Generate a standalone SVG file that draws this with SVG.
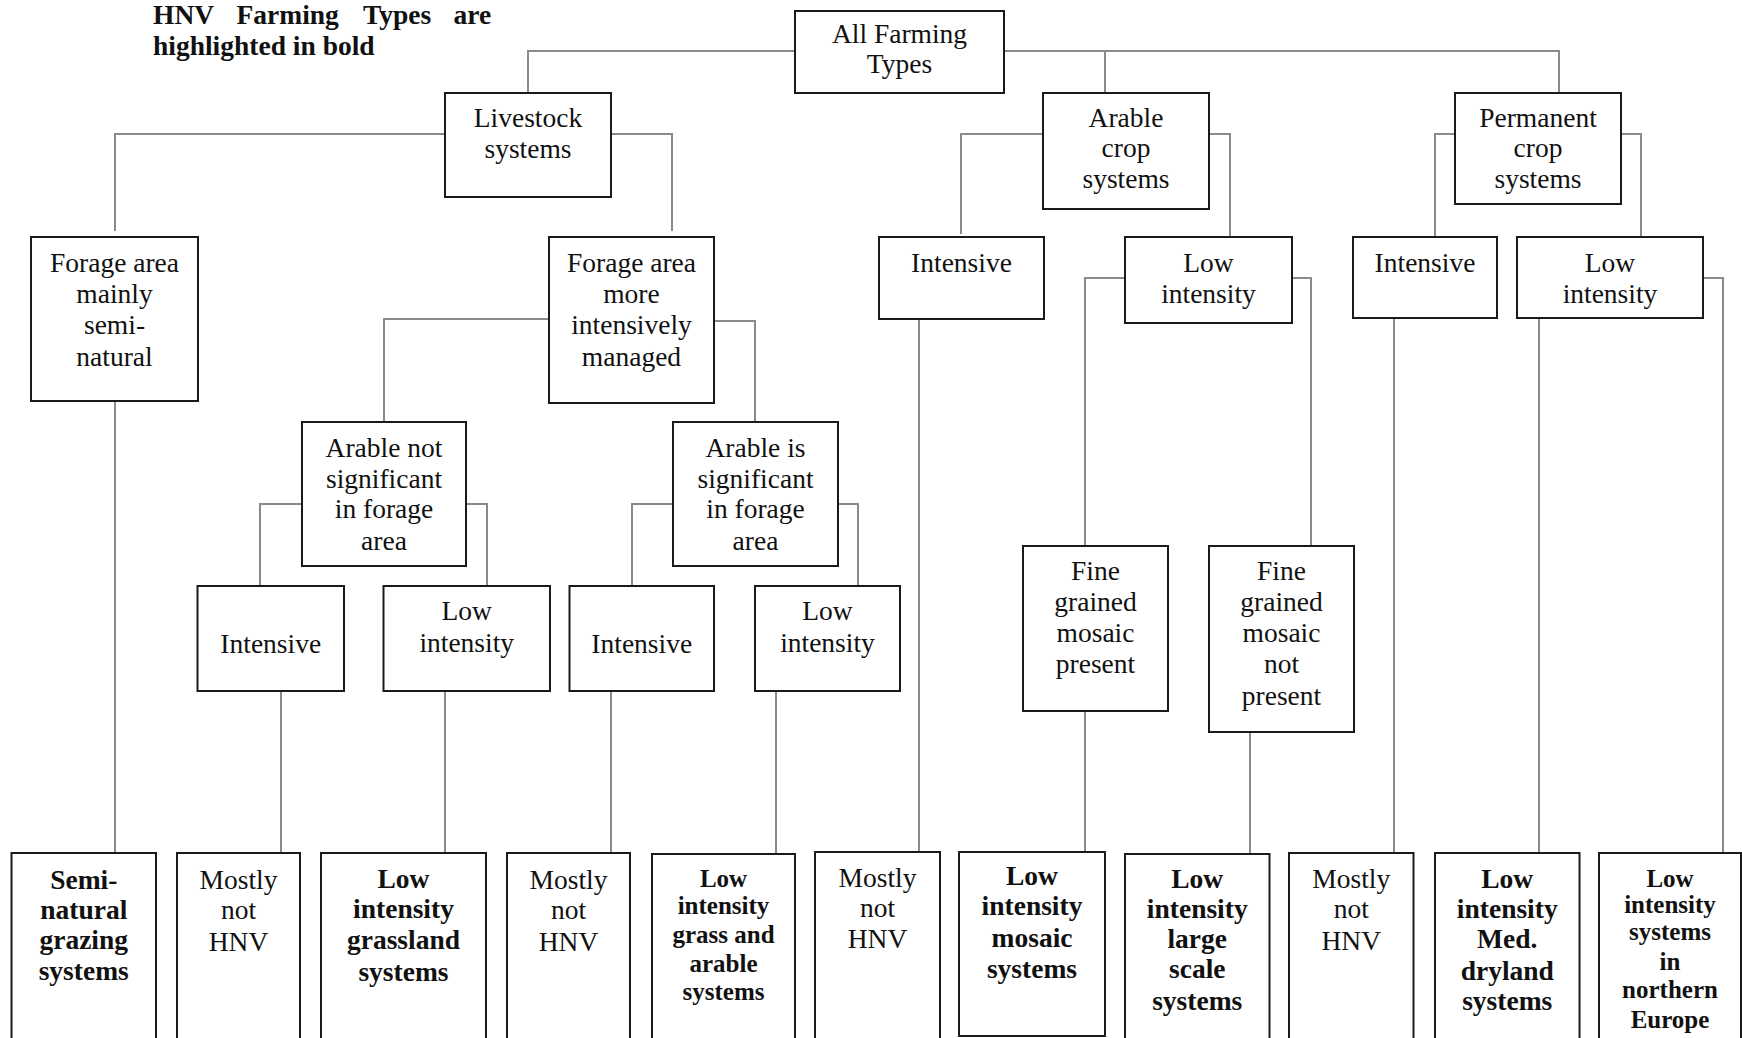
<svg xmlns="http://www.w3.org/2000/svg" width="1742" height="1038" viewBox="0 0 1742 1038">
<style>
  .box { fill: #ffffff; stroke: #1a1a1a; stroke-width: 2; }
  .t { font-family: "Liberation Serif", "Times New Roman", serif; font-size: 27.5px; fill: #111; text-anchor: middle; }
  .b { font-weight: bold; }
  .s { font-size: 25px; }
  .title { font-family: "Liberation Serif", "Times New Roman", serif; font-size: 27.5px; font-weight: bold; fill: #111; }
  .c { fill: none; stroke: #8a8a8a; stroke-width: 2; }
</style>
<rect width="1742" height="1038" fill="#ffffff"/>

<g id="title">
  <text class="title" y="24"><tspan x="153">HNV</tspan><tspan x="236.5">Farming</tspan><tspan x="363">Types</tspan><tspan x="453.5">are</tspan></text>
  <text class="title" x="153" y="55">highlighted in bold</text>
</g>

<g id="connectors">
  <polyline class="c" points="795,51 528,51 528,93"/>
  <polyline class="c" points="1004,51 1559,51 1559,93"/>
  <polyline class="c" points="1105,51 1105,93"/>
  <polyline class="c" points="445,134 115,134 115,231"/>
  <polyline class="c" points="611,134 672,134 672,231"/>
  <polyline class="c" points="115,401 115,853"/>
  <polyline class="c" points="549,319 384,319 384,422"/>
  <polyline class="c" points="714,321 755,321 755,422"/>
  <polyline class="c" points="302,504 260,504 260,586"/>
  <polyline class="c" points="466,504 487,504 487,586"/>
  <polyline class="c" points="673,504 632,504 632,586"/>
  <polyline class="c" points="838,504 858,504 858,586"/>
  <polyline class="c" points="281,691 281,853"/>
  <polyline class="c" points="445,691 445,853"/>
  <polyline class="c" points="611,691 611,853"/>
  <polyline class="c" points="776,691 776,854"/>
  <polyline class="c" points="1043,134 961,134 961,234"/>
  <polyline class="c" points="1209,134 1230,134 1230,237"/>
  <polyline class="c" points="919,319 919,852"/>
  <polyline class="c" points="1125,278 1085,278 1085,546"/>
  <polyline class="c" points="1292,278 1311,278 1311,546"/>
  <polyline class="c" points="1085,711 1085,852"/>
  <polyline class="c" points="1250,732 1250,854"/>
  <polyline class="c" points="1455,134 1435,134 1435,237"/>
  <polyline class="c" points="1621,134 1641,134 1641,237"/>
  <polyline class="c" points="1394,318 1394,853"/>
  <polyline class="c" points="1539,318 1539,853"/>
  <polyline class="c" points="1703,278 1723,278 1723,853"/>
</g>

<g id="all-farming">
  <rect class="box" x="795" y="11" width="209" height="82"/>
  <text class="t" x="899.5" y="43">All Farming</text>
  <text class="t" x="899.5" y="73">Types</text>
</g>

<g id="livestock">
  <rect class="box" x="445" y="93" width="166" height="104"/>
  <text class="t" x="528" y="127">Livestock</text>
  <text class="t" x="528" y="158">systems</text>
</g>

<g id="arable-crop">
  <rect class="box" x="1043" y="93" width="166" height="116"/>
  <text class="t" x="1126" y="127">Arable</text>
  <text class="t" x="1126" y="157">crop</text>
  <text class="t" x="1126" y="188">systems</text>
</g>

<g id="permanent-crop">
  <rect class="box" x="1455" y="93" width="166" height="111"/>
  <text class="t" x="1538" y="127">Permanent</text>
  <text class="t" x="1538" y="157">crop</text>
  <text class="t" x="1538" y="188">systems</text>
</g>

<g id="forage-semi-natural">
  <rect class="box" x="31" y="237" width="167" height="164"/>
  <text class="t" x="114.5" y="272">Forage area</text>
  <text class="t" x="114.5" y="303">mainly</text>
  <text class="t" x="114.5" y="334">semi-</text>
  <text class="t" x="114.5" y="366">natural</text>
</g>

<g id="forage-intensive">
  <rect class="box" x="549" y="237" width="165" height="166"/>
  <text class="t" x="631.5" y="272">Forage area</text>
  <text class="t" x="631.5" y="303">more</text>
  <text class="t" x="631.5" y="334">intensively</text>
  <text class="t" x="631.5" y="366">managed</text>
</g>

<g id="arable-intensive">
  <rect class="box" x="879" y="237" width="165" height="82"/>
  <text class="t" x="961.5" y="272">Intensive</text>
</g>

<g id="arable-low">
  <rect class="box" x="1125" y="237" width="167" height="86"/>
  <text class="t" x="1208.5" y="272">Low</text>
  <text class="t" x="1208.5" y="303">intensity</text>
</g>

<g id="perm-intensive">
  <rect class="box" x="1353" y="237" width="144" height="81"/>
  <text class="t" x="1425" y="272">Intensive</text>
</g>

<g id="perm-low">
  <rect class="box" x="1517" y="237" width="186" height="81"/>
  <text class="t" x="1610" y="272">Low</text>
  <text class="t" x="1610" y="303">intensity</text>
</g>

<g id="arable-not-significant">
  <rect class="box" x="302" y="422" width="164" height="144"/>
  <text class="t" x="384" y="457">Arable not</text>
  <text class="t" x="384" y="488">significant</text>
  <text class="t" x="384" y="518">in forage</text>
  <text class="t" x="384" y="550">area</text>
</g>

<g id="arable-is-significant">
  <rect class="box" x="673" y="422" width="165" height="144"/>
  <text class="t" x="755.5" y="457">Arable is</text>
  <text class="t" x="755.5" y="488">significant</text>
  <text class="t" x="755.5" y="518">in forage</text>
  <text class="t" x="755.5" y="550">area</text>
</g>

<g id="ls-intensive-1">
  <rect class="box" x="197.5" y="586" width="146.5" height="105"/>
  <text class="t" x="270.75" y="653">Intensive</text>
</g>

<g id="ls-low-1">
  <rect class="box" x="383.5" y="586" width="166.5" height="105"/>
  <text class="t" x="466.75" y="620">Low</text>
  <text class="t" x="466.75" y="652">intensity</text>
</g>

<g id="ls-intensive-2">
  <rect class="box" x="569.5" y="586" width="144.5" height="105"/>
  <text class="t" x="641.75" y="653">Intensive</text>
</g>

<g id="ls-low-2">
  <rect class="box" x="755" y="586" width="145" height="105"/>
  <text class="t" x="827.5" y="620">Low</text>
  <text class="t" x="827.5" y="652">intensity</text>
</g>

<g id="fine-present">
  <rect class="box" x="1023" y="546" width="145" height="165"/>
  <text class="t" x="1095.5" y="580">Fine</text>
  <text class="t" x="1095.5" y="611">grained</text>
  <text class="t" x="1095.5" y="642">mosaic</text>
  <text class="t" x="1095.5" y="673">present</text>
</g>

<g id="fine-not-present">
  <rect class="box" x="1209" y="546" width="145" height="186"/>
  <text class="t" x="1281.5" y="580">Fine</text>
  <text class="t" x="1281.5" y="611">grained</text>
  <text class="t" x="1281.5" y="642">mosaic</text>
  <text class="t" x="1281.5" y="673">not</text>
  <text class="t" x="1281.5" y="705">present</text>
</g>

<g id="semi-natural-grazing">
  <rect class="box" x="11.5" y="853" width="144.5" height="200"/>
  <text class="t b" x="83.75" y="889">Semi-</text>
  <text class="t b" x="83.75" y="919">natural</text>
  <text class="t b" x="83.75" y="949">grazing</text>
  <text class="t b" x="83.75" y="980">systems</text>
</g>

<g id="mostly-not-1">
  <rect class="box" x="177" y="853" width="123" height="200"/>
  <text class="t" x="238.5" y="889">Mostly</text>
  <text class="t" x="238.5" y="919">not</text>
  <text class="t" x="238.5" y="951">HNV</text>
</g>

<g id="low-grassland">
  <rect class="box" x="321" y="853" width="165" height="200"/>
  <text class="t b" x="403.5" y="888">Low</text>
  <text class="t b" x="403.5" y="918">intensity</text>
  <text class="t b" x="403.5" y="949">grassland</text>
  <text class="t b" x="403.5" y="981">systems</text>
</g>

<g id="mostly-not-2">
  <rect class="box" x="507" y="853" width="123" height="200"/>
  <text class="t" x="568.5" y="889">Mostly</text>
  <text class="t" x="568.5" y="919">not</text>
  <text class="t" x="568.5" y="951">HNV</text>
</g>

<g id="low-grass-arable">
  <rect class="box" x="652" y="854" width="143" height="200"/>
  <text class="t b s" x="723.5" y="887">Low</text>
  <text class="t b s" x="723.5" y="914">intensity</text>
  <text class="t b s" x="723.5" y="943">grass and</text>
  <text class="t b s" x="723.5" y="972">arable</text>
  <text class="t b s" x="723.5" y="1000">systems</text>
</g>

<g id="mostly-not-3">
  <rect class="box" x="815" y="852" width="125" height="200"/>
  <text class="t" x="877.5" y="887">Mostly</text>
  <text class="t" x="877.5" y="917">not</text>
  <text class="t" x="877.5" y="948">HNV</text>
</g>

<g id="low-mosaic">
  <rect class="box" x="959" y="852" width="146" height="184"/>
  <text class="t b" x="1032" y="885">Low</text>
  <text class="t b" x="1032" y="915">intensity</text>
  <text class="t b" x="1032" y="947">mosaic</text>
  <text class="t b" x="1032" y="978">systems</text>
</g>

<g id="low-large-scale">
  <rect class="box" x="1125" y="854" width="144.5" height="200"/>
  <text class="t b" x="1197.25" y="888">Low</text>
  <text class="t b" x="1197.25" y="918">intensity</text>
  <text class="t b" x="1197.25" y="948">large</text>
  <text class="t b" x="1197.25" y="978">scale</text>
  <text class="t b" x="1197.25" y="1010">systems</text>
</g>

<g id="mostly-not-4">
  <rect class="box" x="1289" y="853" width="124.5" height="200"/>
  <text class="t" x="1351.25" y="888">Mostly</text>
  <text class="t" x="1351.25" y="918">not</text>
  <text class="t" x="1351.25" y="950">HNV</text>
</g>

<g id="low-med-dryland">
  <rect class="box" x="1435" y="853" width="144.5" height="200"/>
  <text class="t b" x="1507.25" y="888">Low</text>
  <text class="t b" x="1507.25" y="918">intensity</text>
  <text class="t b" x="1507.25" y="948">Med.</text>
  <text class="t b" x="1507.25" y="980">dryland</text>
  <text class="t b" x="1507.25" y="1010">systems</text>
</g>

<g id="low-northern-europe">
  <rect class="box" x="1599" y="853" width="142" height="200"/>
  <text class="t b s" x="1670" y="887">Low</text>
  <text class="t b s" x="1670" y="913">intensity</text>
  <text class="t b s" x="1670" y="940">systems</text>
  <text class="t b s" x="1670" y="970">in</text>
  <text class="t b s" x="1670" y="998">northern</text>
  <text class="t b s" x="1670" y="1028">Europe</text>
</g>
</svg>
